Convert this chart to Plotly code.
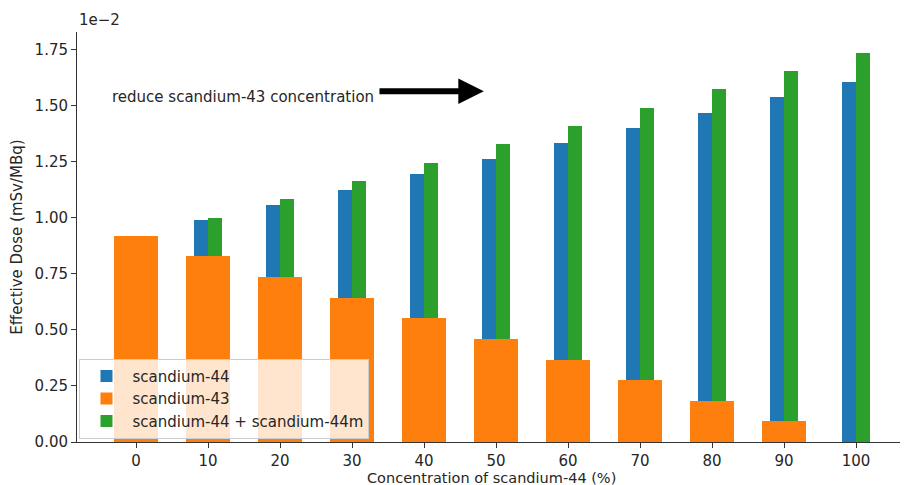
import plotly.graph_objects as go

concentration = [0, 10, 20, 30, 40, 50, 60, 70, 80, 90, 100]
tick_labels = ["0", "10", "20", "30", "40", "50", "60", "70", "80", "90", "100"]
# effective dose values in units of 1e-2 mSv/MBq
sc44 = [0.0, 0.99, 1.06, 1.125, 1.195, 1.265, 1.335, 1.40, 1.47, 1.54, 1.605]
sc43 = [0.92, 0.828, 0.736, 0.644, 0.552, 0.46, 0.368, 0.276, 0.184, 0.092, 0.0]
sc44_44m = [0.0, 1.0, 1.085, 1.165, 1.245, 1.33, 1.41, 1.49, 1.575, 1.655, 1.735]
y_ticks = [0, 0.25, 0.5, 0.75, 1.0, 1.25, 1.5, 1.75]
y_tick_labels = ["0.00", "0.25", "0.50", "0.75", "1.00", "1.25", "1.50", "1.75"]

BLUE = "#1f77b4"
ORANGE = "#ff7f0e"
GREEN = "#2ca02c"
FONT = "DejaVu Sans"
TXT = "#262626"

fig = go.Figure()
fig.add_trace(go.Bar(x=concentration, y=sc44, name="scandium-44", marker_color=BLUE,
                     marker_line_width=0, width=2, offset=-2, legendrank=1))
fig.add_trace(go.Bar(x=concentration, y=sc44_44m, name="scandium-44 + scandium-44m",
                     marker_color=GREEN, marker_line_width=0, width=2, offset=0, legendrank=3))
fig.add_trace(go.Bar(x=concentration, y=sc43, name="scandium-43", marker_color=ORANGE,
                     marker_line_width=0, width=6, offset=-3, legendrank=2))

fig.add_annotation(x=48.3, y=1.566, ax=33.6, ay=1.566, xref="x", yref="y",
                   axref="x", ayref="y", text="", showarrow=True,
                   arrowhead=2, arrowsize=0.85, arrowwidth=6, arrowcolor="black")
fig.add_annotation(x=33.3, y=1.54, xref="x", yref="y", text="reduce scandium-43 concentration",
                   showarrow=False, xanchor="right", yanchor="middle",
                   font=dict(family=FONT, size=15, color=TXT))
fig.add_annotation(x=0, y=1.0, xref="paper", yref="paper", text="1e\u22122",
                   showarrow=False, xanchor="left", yanchor="bottom", yshift=1,
                   font=dict(family=FONT, size=15, color=TXT))
# x-axis title
fig.add_annotation(x=0.5, y=0, xref="paper", yref="paper",
                   text="Concentration of scandium-44 (%)",
                   showarrow=False, xanchor="center", yanchor="top", yshift=-27,
                   borderpad=0, font=dict(family=FONT, size=14.5, color=TXT))

fig.update_layout(
    width=900, height=477,
    margin=dict(l=69, r=3, t=24, b=43),
    paper_bgcolor="white", plot_bgcolor="white",
    barmode="overlay", bargap=0,
    font=dict(family=FONT, size=15, color=TXT),
    showlegend=True,
    legend=dict(x=0.003, y=0.008, xanchor="left", yanchor="bottom",
                bgcolor="rgba(255,255,255,0.8)", bordercolor="#cccccc", borderwidth=1,
                font=dict(family=FONT, size=15, color=TXT), traceorder="normal",
                itemwidth=42, tracegroupgap=0),
    xaxis=dict(range=[-8.2, 106.8], tickmode="array", tickvals=concentration,
               ticktext=tick_labels, showline=True, linecolor="#333333", linewidth=1,
               ticks="outside", ticklen=5, tickcolor="#333333", showgrid=False,
               zeroline=False, mirror=False, tickfont=dict(size=15), automargin=False),
    yaxis=dict(range=[0, 1.83], tickmode="array", tickvals=y_ticks,
               ticktext=y_tick_labels,
               showline=True, linecolor="#333333", linewidth=1,
               ticks="outside", ticklen=5, tickcolor="#333333", showgrid=False,
               zeroline=False, tickfont=dict(size=15),
               title=dict(text="Effective Dose (mSv/MBq)", standoff=9,
                          font=dict(family=FONT, size=15))),
)

fig.write_html("out.html")
